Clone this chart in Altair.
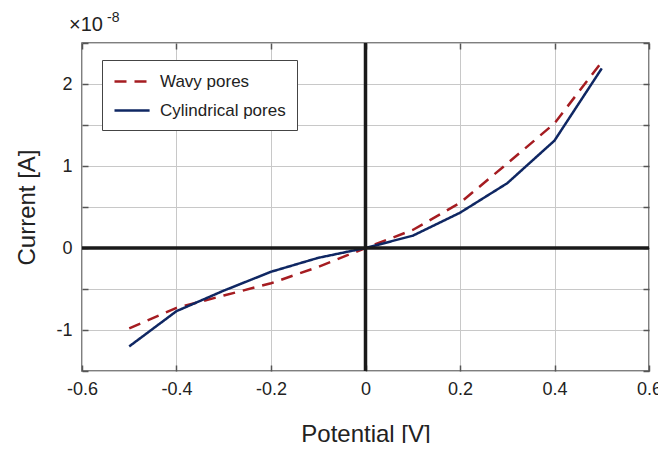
import altair as alt
import pandas as pd

potential = [-0.5, -0.4, -0.3, -0.2, -0.1, 0.0, 0.1, 0.2, 0.3, 0.4, 0.5]
wavy = [-0.98, -0.73, -0.58, -0.43, -0.23, 0.0, 0.22, 0.55, 1.03, 1.52, 2.27]
cylindrical = [-1.20, -0.77, -0.52, -0.29, -0.12, 0.0, 0.15, 0.43, 0.79, 1.31, 2.19]
series_names = ["Wavy pores", "Cylindrical pores"]
series_colors = ["#A51C21", "#0F2763"]
x_ticks = [-0.6, -0.4, -0.2, 0, 0.2, 0.4, 0.6]
y_ticks = [-1.5, -1, -0.5, 0, 0.5, 1, 1.5, 2, 2.5]
multiplier_text = ["×10"]
exponent_text = ["-8"]

rows = []
for name, vals in zip(series_names, [wavy, cylindrical]):
    for p, v in zip(potential, vals):
        rows.append({"Potential": p, "Current": v, "Series": name})
df = pd.DataFrame(rows)

W, H = 567, 328
FONT = "Liberation Sans"
xscale = alt.Scale(domain=[-0.6, 0.6], nice=False, zero=False)
yscale = alt.Scale(domain=[-1.5, 2.5], nice=False, zero=False)

lines = alt.Chart(df).mark_line(strokeWidth=2.5).encode(
    x=alt.X("Potential:Q", scale=xscale,
            axis=alt.Axis(values=x_ticks, title="Potential [V]", grid=True, gridColor="#c8c8c8",
                          gridWidth=1, ticks=False, domain=False, labelFontSize=18,
                          labelColor="#222", titleFontSize=24, titleFontWeight="normal",
                          titleColor="#222", labelPadding=9, titlePadding=24, labelFont=FONT,
                          titleFont=FONT, labelExpr="'' + datum.value", labelFlush=False)),
    y=alt.Y("Current:Q", scale=yscale,
            axis=alt.Axis(values=y_ticks, title="Current [A]", grid=True, gridColor="#c8c8c8",
                          gridWidth=1, ticks=False, domain=False, labelFontSize=18,
                          labelColor="#222", titleFontSize=24, titleFontWeight="normal",
                          titleColor="#222", labelPadding=10, titlePadding=16, labelFont=FONT,
                          titleFont=FONT,
                          labelExpr="datum.value % 1 == 0 ? '' + datum.value : ''")),
    color=alt.Color("Series:N", scale=alt.Scale(domain=series_names, range=series_colors),
                    legend=alt.Legend(title=None, orient="none", legendX=20, legendY=17,
                                      strokeColor="#444", fillColor="white", padding=11,
                                      labelFontSize=17, labelFont=FONT, labelColor="#222",
                                      symbolType="M-1,0H2.9", symbolSize=324, symbolStrokeWidth=2.5,
                                      rowPadding=10, labelOffset=26)),
    strokeDash=alt.StrokeDash("Series:N",
                              scale=alt.Scale(domain=series_names, range=[[12, 8], [1, 0]]),
                              legend=None),
)

zero_df = pd.DataFrame({"z": [0]})
vrule = alt.Chart(zero_df).mark_rule(color="#1a1a1a", strokeWidth=3.5).encode(
    x=alt.X("z:Q", scale=xscale, axis=None))
hrule = alt.Chart(zero_df).mark_rule(color="#1a1a1a", strokeWidth=3.5).encode(
    y=alt.Y("z:Q", scale=yscale, axis=None))

tick_ax = dict(labels=False, grid=False, domain=False, ticks=True, tickSize=6,
               tickColor="#555", tickWidth=1.5, title=None)
inner_left = alt.Chart(zero_df).mark_point(opacity=0).encode(
    y=alt.Y("z:Q", scale=yscale, axis=alt.Axis(orient="right", offset=-W, values=y_ticks, **tick_ax)))
inner_right = alt.Chart(zero_df).mark_point(opacity=0).encode(
    y=alt.Y("z:Q", scale=yscale, axis=alt.Axis(orient="left", offset=-W, values=y_ticks, **tick_ax)))
inner_bottom = alt.Chart(zero_df).mark_point(opacity=0).encode(
    x=alt.X("z:Q", scale=xscale, axis=alt.Axis(orient="top", offset=-H, values=x_ticks, **tick_ax)))
inner_top = alt.Chart(zero_df).mark_point(opacity=0).encode(
    x=alt.X("z:Q", scale=xscale, axis=alt.Axis(orient="bottom", offset=-H, values=x_ticks, **tick_ax)))

multiplier = alt.Chart(pd.DataFrame({"t": multiplier_text})).mark_text(
    font=FONT, fontSize=20, color="#222", align="left", baseline="middle"
).encode(text="t:N", x=alt.value(-13), y=alt.value(-18))
exponent = alt.Chart(pd.DataFrame({"t": exponent_text})).mark_text(
    font=FONT, fontSize=14, color="#222", align="left", baseline="middle"
).encode(text="t:N", x=alt.value(25), y=alt.value(-25))

chart = alt.layer(lines, vrule, hrule, inner_left, inner_right, inner_bottom, inner_top,
                  multiplier, exponent).resolve_axis(
    x="independent", y="independent"
).properties(
    width=W, height=H,
    autosize=alt.AutoSizeParams(type="none"),
    padding={"left": 74, "top": 35, "right": 9, "bottom": 72},
).configure_view(stroke="#555", strokeWidth=1.5)

chart.save("out.html", embed_options={"renderer": "svg", "actions": False})
